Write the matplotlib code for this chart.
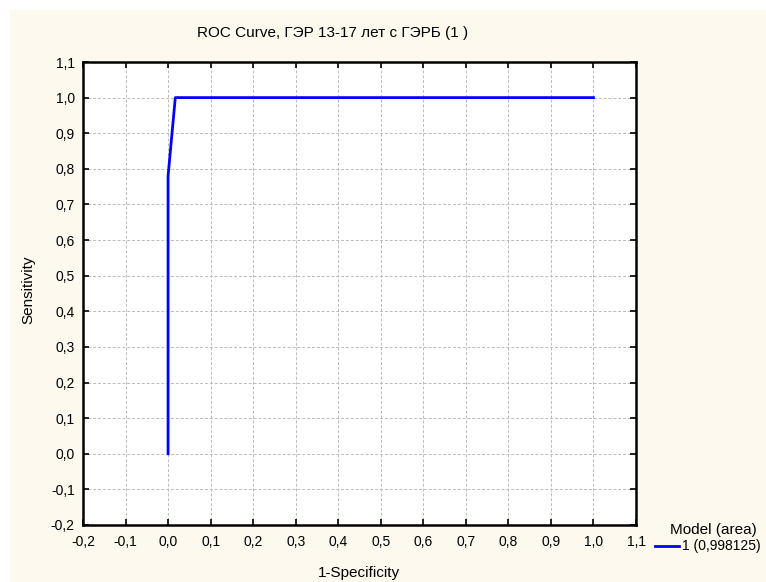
import matplotlib
matplotlib.use("Agg")
import matplotlib.pyplot as plt
from matplotlib.patches import Rectangle
from matplotlib.ticker import FuncFormatter

# ROC curve points
fpr = [0.0, 0.0, 0.017, 1.0]
tpr = [0.0, 0.78, 1.0, 1.0]
series_label = "1 (0,998125)"
legend_title = "Model (area)"
title = "ROC Curve, ГЭР 13-17 лет с ГЭРБ (1 )"
ticks = [-0.2, -0.1, 0.0, 0.1, 0.2, 0.3, 0.4, 0.5, 0.6, 0.7, 0.8, 0.9, 1.0, 1.1]

plt.rcParams['font.family'] = ['Liberation Sans', 'DejaVu Sans']
plt.rcParams['font.size'] = 10

fig = plt.figure(figsize=(7.66, 5.82), dpi=100)
fig.patch.set_facecolor('white')
fig.patches.append(Rectangle((10 / 766, 0), 1, 1 - 10 / 582, transform=fig.transFigure,
                             facecolor='#FDF9EF', edgecolor='none', zorder=-10))

ax = fig.add_axes([83 / 766, 1 - 525 / 582, (636 - 83) / 766, (525 - 62) / 582])
ax.set_facecolor('white')
line, = ax.plot(fpr, tpr, color='#0000FF', linewidth=2, label=series_label, zorder=3)

ax.set_xlim(-0.2, 1.1)
ax.set_ylim(-0.2, 1.1)
ax.set_xticks(ticks)
ax.set_yticks(ticks)
comma = FuncFormatter(lambda v, p: f"{v:.1f}".replace('.', ',').replace('-0,0', '0,0'))
ax.xaxis.set_major_formatter(comma)
ax.yaxis.set_major_formatter(comma)
ax.tick_params(direction='in', length=4, width=1.2, top=True, right=True, colors='black', labelsize=10)
ax.tick_params(axis='x', pad=7)
ax.tick_params(axis='y', pad=6)
ax.grid(True, color='#BBBBBB', linestyle=(0, (3, 2)), linewidth=0.7)
for s in ax.spines.values():
    s.set_linewidth(1.8)
    s.set_color('black')

fig.text(333 / 766, 1 - 33 / 582, title, ha='center', va='center', fontsize=11)
fig.text(359 / 766, 1 - 573 / 582, "1-Specificity", ha='center', va='center', fontsize=11)
fig.text(28 / 766, 1 - 290 / 582, "Sensitivity", ha='center', va='center', rotation=90, fontsize=11)

leg = fig.legend(handles=[line], title=legend_title, loc='center left',
                 bbox_to_anchor=(655 / 766, 1 - 538 / 582), frameon=False,
                 fontsize=10, title_fontsize=11, handlelength=1.7, handletextpad=0.25,
                 borderpad=0, labelspacing=0.2, borderaxespad=0)
leg.get_title().set_position((6, 0))

fig.savefig("out.png", dpi=100)
